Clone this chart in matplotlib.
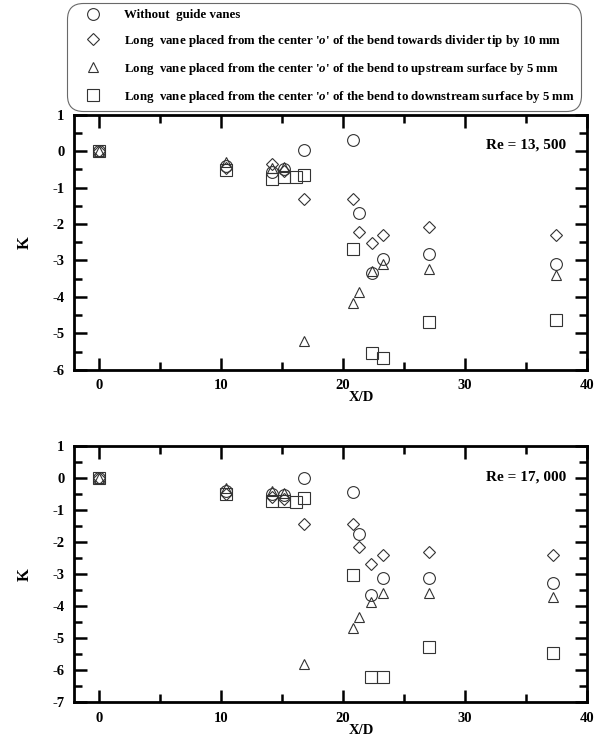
import matplotlib
matplotlib.use("Agg")
import matplotlib.pyplot as plt
from matplotlib.ticker import MultipleLocator

plt.rcParams["font.family"] = ["Liberation Serif", "DejaVu Serif"]
plt.rcParams["font.weight"] = "bold"
plt.rcParams["axes.labelweight"] = "bold"
plt.rcParams["axes.unicode_minus"] = False
plt.rcParams["mathtext.fontset"] = "custom"
plt.rcParams["mathtext.it"] = "Liberation Serif:italic:bold"
plt.rcParams["mathtext.rm"] = "Liberation Serif:bold"

labels = [
    "Without  guide vanes",
    "Long  vane placed from the center '$\\it{o}$' of the bend towards divider tip by 10 mm",
    "Long  vane placed from the center '$\\it{o}$' of the bend to upstream surface by 5 mm",
    "Long  vane placed from the center '$\\it{o}$' of the bend to downstream surface by 5 mm",
]
markers = ["o", "D", "^", "s"]
msizes = [8.5, 6.5, 7.5, 8.5]

# Re = 13,500
x_a = [0, 10.4, 14.2, 15.2, 16.8, 20.8, 21.3, 22.4, 23.3, 27.1, 37.5]
x_a_sq = [0, 10.4, 14.2, 15.2, 16.2, 16.8, 20.8, 22.4, 23.3, 27.1, 37.5]
k_a_none = [0, -0.42, -0.56, -0.5, 0.02, 0.32, -1.7, -3.35, -2.96, -2.82, -3.1]
k_a_tip = [0, -0.46, -0.35, -0.54, -1.32, -1.32, -2.21, -2.53, -2.31, -2.07, -2.3]
k_a_up = [0, -0.31, -0.45, -0.44, -5.2, -4.16, -3.86, -3.3, -3.09, -3.24, -3.4]
k_a_down = [0, -0.53, -0.75, -0.7, -0.71, -0.65, -2.69, -5.53, -5.68, -4.7, -4.63]

# Re = 17,000
x_b = [0, 10.4, 14.2, 15.2, 16.8, 20.8, 21.3, 22.3, 23.3, 27.1, 37.2]
x_b_sq = [0, 10.4, 14.2, 15.2, 16.2, 16.8, 20.8, 22.3, 23.3, 27.1, 37.2]
k_b_none = [0, -0.4, -0.5, -0.52, 0.0, -0.43, -1.73, -3.66, -3.13, -3.13, -3.27]
k_b_tip = [0, -0.48, -0.58, -0.65, -1.42, -1.44, -2.15, -2.69, -2.41, -2.31, -2.41]
k_b_up = [0, -0.32, -0.4, -0.45, -5.81, -4.67, -4.33, -3.86, -3.6, -3.6, -3.71]
k_b_down = [0, -0.5, -0.72, -0.72, -0.74, -0.63, -3.03, -6.21, -6.21, -5.27, -5.48]

panels = [
    ("Re = 13, 500", (-6, 1), [x_a, x_a, x_a, x_a_sq],
     [k_a_none, k_a_tip, k_a_up, k_a_down]),
    ("Re = 17, 000", (-7, 1), [x_b, x_b, x_b, x_b_sq],
     [k_b_none, k_b_tip, k_b_up, k_b_down]),
]

fig = plt.figure(figsize=(5.94, 7.5), dpi=100)
rects = [[0.125, 0.507, 0.863, 0.340], [0.125, 0.064, 0.863, 0.341]]

handles = []
for (title, ylim, xs, ks), rect in zip(panels, rects):
    ax = fig.add_axes(rect)
    hs = []
    for xv, kv, m, ms in zip(xs, ks, markers, msizes):
        h, = ax.plot(xv, kv, linestyle="none", marker=m, markersize=ms,
                     markerfacecolor="none", markeredgecolor="#333333",
                     markeredgewidth=0.8)
        hs.append(h)
    handles = handles or hs
    ax.set_xlim(-2, 40)
    ax.set_ylim(*ylim)
    ax.xaxis.set_major_locator(MultipleLocator(10))
    ax.xaxis.set_minor_locator(MultipleLocator(5))
    ax.yaxis.set_major_locator(MultipleLocator(1))
    ax.yaxis.set_minor_locator(MultipleLocator(0.5))
    ax.tick_params(which="both", direction="in", top=True, right=True,
                   width=1.8, labelsize=10.5, pad=7)
    ax.tick_params(which="major", length=9)
    ax.tick_params(which="minor", length=6)
    for lab in ax.get_xticklabels() + ax.get_yticklabels():
        lab.set_fontweight("bold")
    for s in ax.spines.values():
        s.set_linewidth(2)
    ax.set_ylabel("K", fontsize=12, fontweight="bold", labelpad=14)
    ax.set_xlabel("X/D", fontsize=10.5, fontweight="bold")
    ax.xaxis.set_label_coords(0.56, -0.085)
    ax.text(0.96, 0.88, title, transform=ax.transAxes, ha="right",
            va="center", fontsize=11, fontweight="bold")

leg = fig.legend(handles, labels, loc="upper left",
                 bbox_to_anchor=(0.115, 0.994), fontsize=9.3,
                 frameon=True, fancybox=True, edgecolor="#444444",
                 labelspacing=0.92, handletextpad=0.8, borderpad=0.35,
                 handlelength=3.2, borderaxespad=0)
leg.get_frame().set_linewidth(0.8)
leg.get_frame().set_boxstyle("round", pad=0.1, rounding_size=1.2)
for t in leg.get_texts():
    t.set_fontweight("bold")

fig.savefig("out.png", dpi=100)
